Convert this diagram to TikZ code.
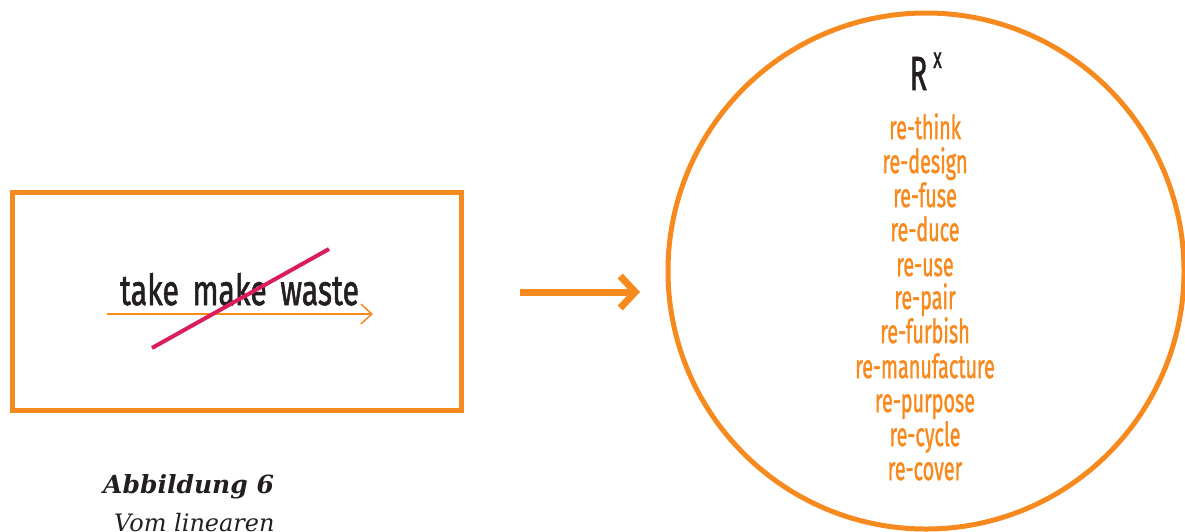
\documentclass[tikz,border=0pt]{standalone}
\usepackage{fontspec}
\setmainfont{DejaVu Serif}
\newfontfamily\condfont{Fira Sans}[FakeBold=1.6]
\usetikzlibrary{arrows.meta}
\definecolor{orng}{HTML}{F68A1F}
\definecolor{crim}{HTML}{DA1E5A}
\definecolor{ink}{HTML}{231F20}
\newcommand{\sqz}[1]{\scalebox{0.60}[1]{#1}}
\tikzset{
  frame/.style={draw=orng, line width=5pt},
  rword/.style={anchor=base, inner sep=0pt, text=orng, font=\condfont\fontsize{33}{33}\selectfont},
  bigarrow/.style={draw=orng, line width=7pt, -{Straight Barb[length=15pt,width=32pt]}},
  thinarrow/.style={draw=orng, line width=1.5pt, -{Straight Barb[length=11pt,width=20pt]}},
  strike/.style={draw=crim, line width=4pt},
}
\begin{document}
\begin{tikzpicture}[x=1pt,y=-1pt]
\useasboundingbox (0,0) rectangle (1185,531);
% left box
\node[frame, minimum width=449pt, minimum height=218pt, inner sep=0pt] (box) at (236.5,301) {};
\coordinate (t1) at (107,314);
\coordinate (t2) at (373,314);
\draw[thinarrow] (t1) -- (t2);
\node[anchor=base, inner sep=0pt, text=ink] (tmw) at (239.5,305)
  {\resizebox{239pt}{32pt}{\condfont take\hspace{0.45em}make\hspace{0.45em}waste}};
\coordinate (s1) at (152,348);
\coordinate (s2) at (329,249);
\draw[strike] (s1) -- (s2);
% big arrow
\coordinate (a1) at (520,292);
\coordinate (a2) at (640,292);
\draw[bigarrow] (a1) -- (a2);
% circle
\node[circle, draw=orng, line width=5pt, minimum size=516pt, inner sep=0pt] (circ) at (926,271) {};
\node[anchor=base, inner sep=0pt, text=ink, font=\condfont\fontsize{48}{48}\selectfont] (R) at (918.5,90) {\sqz{R}};
\node[anchor=base, inner sep=0pt, text=ink, font=\condfont\fontsize{29}{29}\selectfont] (Rx) at (937.5,68) {\sqz{x}};
\node[rword] (w1) at (925,139) {\sqz{re-think}};
\node[rword] (w2) at (925,173) {\sqz{re-design}};
\node[rword] (w3) at (925,207) {\sqz{re-fuse}};
\node[rword] (w4) at (925,241) {\sqz{re-duce}};
\node[rword] (w5) at (925,276) {\sqz{re-use}};
\node[rword] (w6) at (925,309) {\sqz{re-pair}};
\node[rword] (w7) at (925,343) {\sqz{re-furbish}};
\node[rword] (w8) at (925,378) {\sqz{re-manufacture}};
\node[rword] (w9) at (925,412) {\sqz{re-purpose}};
\node[rword] (w10) at (925,446) {\sqz{re-cycle}};
\node[rword] (w11) at (925,480) {\sqz{re-cover}};
% caption
\node[anchor=base west, inner sep=0pt, text=ink, font=\fontsize{25}{25}\selectfont\bfseries\itshape] (cap) at (103,493) {Abbildung 6};
\node[anchor=base west, inner sep=0pt, text=ink, font=\fontsize{24}{24}\selectfont\itshape] (cap2) at (114,531) {Vom linearen};
\end{tikzpicture}
\end{document}
